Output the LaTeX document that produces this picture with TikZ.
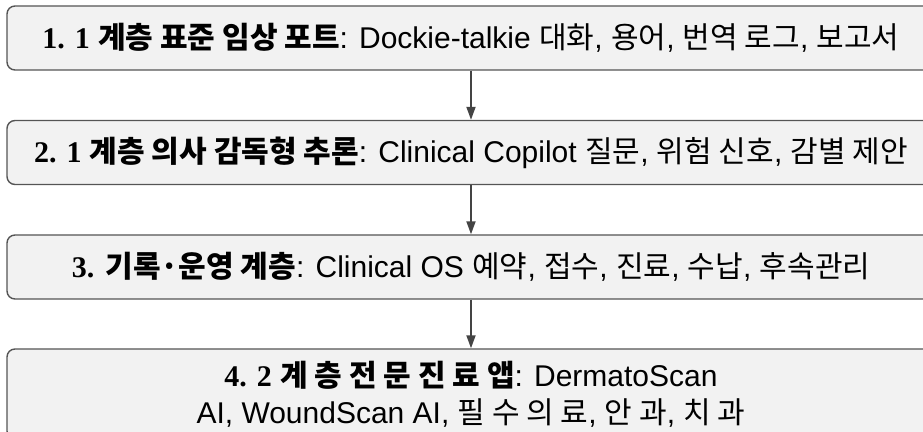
\documentclass[tikz,border=0pt]{standalone}
\usepackage{fontspec}
\setmainfont{Liberation Sans}
\newfontfamily\kr{Noto Sans CJK KR}
\newfontfamily\numfont{Liberation Serif}
\usepackage{xcolor}
\usetikzlibrary{arrows.meta}

\definecolor{boxfill}{HTML}{F2F2F2}
\definecolor{boxline}{HTML}{555555}
\definecolor{arrowline}{HTML}{444444}

% bold heading: serif number, then korean title
\newcommand{\layerhead}[2]{\textbf{{\numfont #1} {\kr #2}}}

\tikzset{
  layerbox/.style={draw=boxline, fill=boxfill, line width=0.7pt, rounded corners=4pt,
    minimum width=464pt, minimum height=32pt, align=center,
    font=\fontsize{15}{18.5}\selectfont},
  flow/.style={draw=arrowline, line width=0.9pt, -{Triangle[length=6.5pt,width=4.5pt]}}
}

\begin{document}
\begin{tikzpicture}[x=0.5pt,y=-0.5pt]
    \useasboundingbox (0,0) rectangle (923,432);
    \clip (0,0) rectangle (923,432);

    \node[layerbox] (port) at (471,38)
      {\layerhead{1. 1}{계층 표준 임상 포트}: Dockie-talkie {\kr 대화}, {\kr 용어}, {\kr 번역 로그}, {\kr 보고서}};
    \node[layerbox] (copilot) at (471,152.5)
      {\layerhead{2. 1}{계층 의사 감독형 추론}: Clinical Copilot {\kr 질문}, {\kr 위험 신호}, {\kr 감별 제안}};
    \node[layerbox] (os) at (471,267)
      {\layerhead{3.}{기록·운영 계층}: Clinical OS {\kr 예약}, {\kr 접수}, {\kr 진료}, {\kr 수납}, {\kr 후속관리}};
    \node[layerbox, minimum height=45pt] (apps) at (471,394)
      {\layerhead{4. 2}{계 층 전 문 진 료 앱}: DermatoScan\\
       AI, WoundScan AI, {\kr 필 수 의 료}, {\kr 안 과}, {\kr 치 과}};

    \draw[flow] (port) -- (copilot);
    \draw[flow] (copilot) -- (os);
    \draw[flow] (os) -- (apps);
\end{tikzpicture}
\end{document}
